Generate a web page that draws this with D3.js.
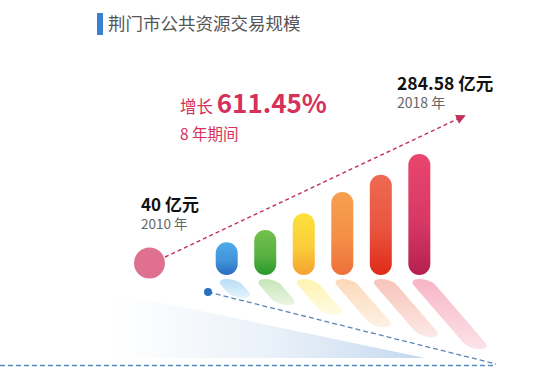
<!DOCTYPE html>
<html><head><meta charset="utf-8">
<script src="https://cdn.jsdelivr.net/npm/d3@7"></script>
<style>
html,body{margin:0;padding:0;background:#fff;}
svg{display:block;font-family:"Noto Sans CJK SC","Noto Sans",sans-serif;}
</style></head>
<body><svg id="c" width="550" height="370"></svg>
<script>
const title = "荆门市公共资源交易规模";
const bars = ["b1","b2","b3","b4","b5","b6"];
const values = [77, 106, 145, 195, 236, 284.58];
const topColors = ["#4eaae8","#72c04c","#fde23c","#f7a04e","#ee6a52","#e9466f"];
const bottomColors = ["#2a6cbf","#2a982c","#f5a232","#ee6f3a","#df2a1a","#b52050"];
const startYear = "2010 年", startValue = 40, startLabel = "40 亿元";
const endYear = "2018 年", endValue = 284.58, endLabel = "284.58 亿元";
const growthLabel = "增长", growthValue = "611.45%", periodLabel = "8 年期间";

const svg = d3.select("#c");
const defs = svg.append("defs");

// title
svg.append("rect").attr("x",97).attr("y",13).attr("width",6).attr("height",22).attr("fill","#3a7fd0");
svg.append("text").attr("x",108).attr("y",30).attr("font-size",17.5).attr("fill","#555").text(title);

// scales
const x = d3.scaleBand().domain(bars).range([208,438]).paddingInner(0.43).paddingOuter(0.2);
const base = 275;
const h = d3.scaleLinear().domain([0, endValue]).range([0, 121]);
const bw = 22;

// blue haze triangle
const haze = defs.append("linearGradient").attr("id","haze").attr("x1","0").attr("x2","1").attr("y1","0").attr("y2","0");
haze.append("stop").attr("offset","0").attr("stop-color","#d8e6f4").attr("stop-opacity",0);
haze.append("stop").attr("offset","0.5").attr("stop-color","#d0e0f2").attr("stop-opacity",0.45);
haze.append("stop").attr("offset","1").attr("stop-color","#b8d0ea").attr("stop-opacity",0.85);
svg.append("path").attr("d","M110,292 L425,358 L110,358 Z").attr("fill","url(#haze)");

// dashed lines bottom
svg.append("line").attr("x1",0).attr("x2",496).attr("y1",365.5).attr("y2",365.5)
  .attr("stroke","#5a8bc2").attr("stroke-width",1.3).attr("stroke-dasharray","5,3");
svg.append("line").attr("x1",208).attr("y1",292).attr("x2",496).attr("y2",364)
  .attr("stroke","#5a85b8").attr("stroke-width",1.3).attr("stroke-dasharray","5,3");
svg.append("circle").attr("cx",208).attr("cy",292).attr("r",4).attr("fill","#2a6fc0");

// gradients
bars.forEach((b,i)=>{
  const g = defs.append("linearGradient").attr("id","g"+i).attr("x1",0).attr("x2",0).attr("y1",0).attr("y2",1);
  g.append("stop").attr("offset","0").attr("stop-color",topColors[i]);
  g.append("stop").attr("offset","0.55").attr("stop-color",d3.interpolateRgb(topColors[i],bottomColors[i])(0.35));
  g.append("stop").attr("offset","1").attr("stop-color",bottomColors[i]);
  const r = defs.append("linearGradient").attr("id","r"+i).attr("x1",0).attr("x2",0).attr("y1",1).attr("y2",0);
  r.append("stop").attr("offset","0").attr("stop-color",topColors[i]).attr("stop-opacity",0.4);
  r.append("stop").attr("offset","1").attr("stop-color",topColors[i]).attr("stop-opacity",0.15);
});

// reflections (skewed, flipped)
svg.append("g").selectAll("rect").data(values).join("rect")
  .attr("transform",(d,i)=>`matrix(1,0,-0.5,-0.58,${x(bars[i])},${base+4})`)
  .attr("x",0).attr("y",d=>-h(d)).attr("width",bw).attr("height",d=>h(d))
  .attr("rx",11).attr("ry",11)
  .attr("fill",(d,i)=>`url(#r${i})`);

// bars
svg.append("g").selectAll("rect").data(values).join("rect")
  .attr("x",(d,i)=>x(bars[i])).attr("y",d=>base-h(d)).attr("width",bw).attr("height",d=>h(d))
  .attr("rx",11).attr("ry",11)
  .attr("fill",(d,i)=>`url(#g${i})`);

// start circle
svg.append("circle").attr("cx",149.5).attr("cy",263).attr("r",15.5).attr("fill","#e07090");

// arrow
defs.append("marker").attr("id","arr").attr("viewBox","0 0 10 10").attr("refX",8).attr("refY",5)
  .attr("markerWidth",7).attr("markerHeight",7).attr("orient","auto")
  .append("path").attr("d","M0,0 L10,5 L0,10 Z").attr("fill","#c0305a");
svg.append("line").attr("x1",165).attr("y1",257).attr("x2",464).attr("y2",116)
  .attr("stroke","#c0305a").attr("stroke-width",1.4).attr("stroke-dasharray","4,3").attr("marker-end","url(#arr)");

// labels
svg.append("text").attr("x",141).attr("y",211).attr("font-size",17).attr("font-weight","bold").attr("fill","#111").text(startLabel);
svg.append("text").attr("x",141).attr("y",229).attr("font-size",13.5).attr("fill","#666").text(startYear);
svg.append("text").attr("x",397).attr("y",90).attr("font-size",17.5).attr("font-weight","bold").attr("fill","#111").text(endLabel);
svg.append("text").attr("x",397).attr("y",108).attr("font-size",14).attr("fill","#666").text(endYear);

const gt = svg.append("text").attr("x",180).attr("y",113).attr("fill","#d6315b");
gt.append("tspan").attr("font-size",16.5).text(growthLabel + " ");
gt.append("tspan").attr("font-size",26).attr("font-weight","bold").text(growthValue);
svg.append("text").attr("x",180).attr("y",140).attr("font-size",15.5).attr("fill","#d6315b").text(periodLabel);
</script></body></html>
